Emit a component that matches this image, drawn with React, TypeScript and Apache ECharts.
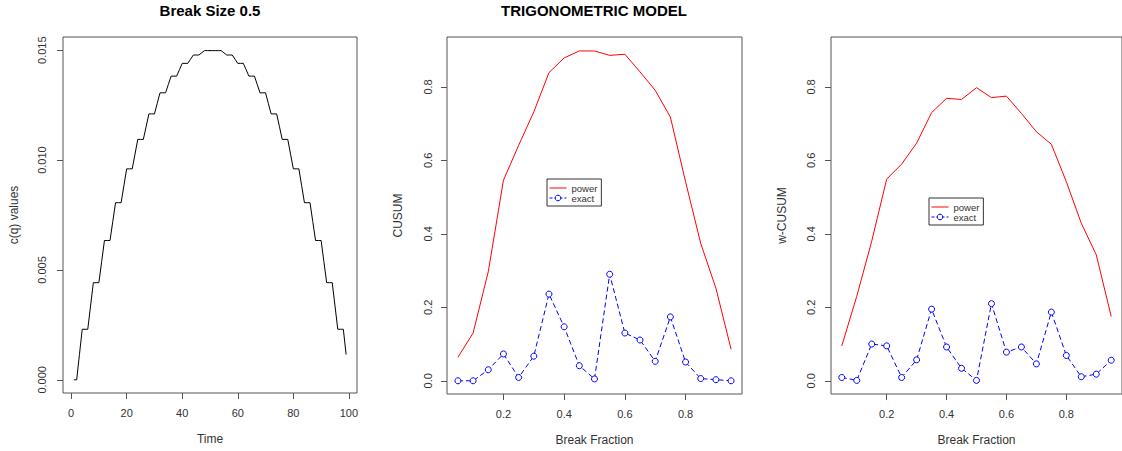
import React, { useEffect, useRef } from "react";
import * as echarts from "echarts";

// ---- Data ----
const cqValues = [
  0, 0, 0.00115,
  0.0023, 0.0023, 0.0023, 0.00336,
  0.00442, 0.00442, 0.00442, 0.00538,
  0.00634, 0.00634, 0.00634, 0.0072,
  0.00806, 0.00806, 0.00806, 0.00883,
  0.0096, 0.0096, 0.0096, 0.01027,
  0.01094, 0.01094, 0.01094, 0.01152,
  0.0121, 0.0121, 0.0121, 0.01258,
  0.01306, 0.01306, 0.01306, 0.01344,
  0.01382, 0.01382, 0.01382, 0.01411,
  0.0144, 0.0144, 0.0144, 0.01459,
  0.01478, 0.01478, 0.01478, 0.01488,
  0.01498, 0.01498, 0.01498, 0.01498,
  0.01498, 0.01498, 0.01498, 0.01488,
  0.01478, 0.01478, 0.01478, 0.01459,
  0.0144, 0.0144, 0.0144, 0.01411,
  0.01382, 0.01382, 0.01382, 0.01344,
  0.01306, 0.01306, 0.01306, 0.01258,
  0.0121, 0.0121, 0.0121, 0.01152,
  0.01094, 0.01094, 0.01094, 0.01027,
  0.0096, 0.0096, 0.0096, 0.00883,
  0.00806, 0.00806, 0.00806, 0.0072,
  0.00634, 0.00634, 0.00634, 0.00538,
  0.00442, 0.00442, 0.00442, 0.00336,
  0.0023, 0.0023, 0.0023, 0.00115,
];
const timeIndex = cqValues.map((_, i) => i + 1);

const breakFractions = [0.05, 0.1, 0.15, 0.2, 0.25, 0.3, 0.35, 0.4, 0.45, 0.5, 0.55, 0.6, 0.65, 0.7, 0.75, 0.8, 0.85, 0.9, 0.95];
const cusumPower = [0.064, 0.13, 0.297, 0.546, 0.641, 0.732, 0.839, 0.879, 0.898, 0.898, 0.886, 0.889, 0.841, 0.791, 0.718, 0.542, 0.374, 0.252, 0.086];
const cusumExact = [0.0, 0.0, 0.03, 0.073, 0.009, 0.067, 0.236, 0.147, 0.041, 0.005, 0.29, 0.13, 0.111, 0.053, 0.174, 0.051, 0.006, 0.003, 0.0];
const wcusumPower = [0.095, 0.23, 0.38, 0.549, 0.59, 0.647, 0.73, 0.769, 0.766, 0.798, 0.771, 0.775, 0.728, 0.678, 0.644, 0.542, 0.429, 0.343, 0.175];
const wcusumExact = [0.009, 0.001, 0.1, 0.095, 0.009, 0.057, 0.195, 0.092, 0.034, 0.001, 0.21, 0.078, 0.092, 0.046, 0.187, 0.069, 0.011, 0.018, 0.056];

const timeTicks = [0, 20, 40, 60, 80, 100];
const cqTicks = [0, 0.005, 0.01, 0.015];
const fracTicks = [0.2, 0.4, 0.6, 0.8];
const powerTicks = [0, 0.2, 0.4, 0.6, 0.8];

const FONT = "Liberation Sans, Arial, sans-serif";
const TXT = "#333";
const BOX = "#555";
const RED = "#ff0000";
const BLUE = "#0000ff";

function xAxisCfg(gridIndex: number, min: number, max: number, ticks: number[], name: string, fmt: (v: number) => string) {
  return {
    type: "value",
    gridIndex,
    min,
    max,
    position: "bottom",
    name,
    nameLocation: "middle",
    nameGap: 40,
    nameTextStyle: { fontSize: 12, color: TXT, fontFamily: FONT },
    axisLine: { show: false, onZero: false },
    splitLine: { show: false },
    axisTick: { show: true, inside: false, length: 6, customValues: ticks, lineStyle: { color: BOX } },
    axisLabel: { show: true, customValues: ticks, margin: 14, fontSize: 11, color: TXT, fontFamily: FONT, formatter: fmt },
  };
}

function yAxisCfg(gridIndex: number, min: number, max: number, ticks: number[], name: string, fmt: (v: number) => string, margin: number) {
  return {
    type: "value",
    gridIndex,
    min,
    max,
    position: "left",
    name,
    nameLocation: "middle",
    nameGap: 43,
    nameRotate: 90,
    nameTextStyle: { fontSize: 12, color: TXT, fontFamily: FONT },
    axisLine: { show: false, onZero: false },
    splitLine: { show: false },
    axisTick: { show: true, inside: false, length: 6, customValues: ticks, lineStyle: { color: BOX } },
    axisLabel: { show: true, customValues: ticks, rotate: 90, margin, fontSize: 11, color: TXT, fontFamily: FONT, formatter: fmt },
  };
}

const f3 = (v: number) => v.toFixed(3);
const f1 = (v: number) => v.toFixed(1);
const f0 = (v: number) => String(Math.round(v));

function legendCfg(left: number, top: number) {
  return {
    orient: "vertical",
    left,
    top,
    data: [
      { name: "power", icon: "path://M0,0h17v1h-17z", itemStyle: { color: RED } },
      { name: "exact", lineStyle: { width: 1, type: [3, 2], color: BLUE }, itemStyle: { color: "#fff", borderColor: BLUE, borderWidth: 1 } },
    ],
    itemGap: 0,
    itemWidth: 17,
    itemHeight: 7,
    padding: [4, 4, 3, 2],
    borderColor: "#333",
    borderWidth: 1,
    borderRadius: 0,
    selectedMode: false,
    textStyle: { fontSize: 9.5, lineHeight: 10, color: TXT, fontFamily: FONT },
  };
}

function exactSeries(axis: number, values: number[]) {
  return {
    name: "exact",
    type: "line",
    xAxisIndex: axis,
    yAxisIndex: axis,
    data: breakFractions.map((x, i) => [x, values[i]]),
    symbol: "circle",
    symbolSize: 6,
    lineStyle: { color: BLUE, width: 1, type: [5, 3] },
    itemStyle: { color: "#fff", borderColor: BLUE, borderWidth: 1 },
  };
}

function powerSeries(axis: number, values: number[]) {
  return {
    name: "power",
    type: "line",
    xAxisIndex: axis,
    yAxisIndex: axis,
    data: breakFractions.map((x, i) => [x, values[i]]),
    symbol: "none",
    lineStyle: { color: RED, width: 1 },
    itemStyle: { color: RED },
  };
}

export default function App() {
  const ref = useRef<HTMLDivElement>(null);
  useEffect(() => {
    document.body.style.margin = "0";
    if (!ref.current) return;
    const chart = echarts.init(ref.current, undefined, { renderer: "svg" });
    const option = {
      animation: false,
      backgroundColor: "#fff",
      textStyle: { fontFamily: FONT },
      title: [
        { text: "Break Size 0.5", left: 210, top: 3, textAlign: "center", padding: 0, textStyle: { fontSize: 15, fontWeight: "bold", color: "#000", fontFamily: FONT } },
        { text: "TRIGONOMETRIC MODEL", left: 594, top: 3, textAlign: "center", padding: 0, textStyle: { fontSize: 15, fontWeight: "bold", color: "#000", fontFamily: FONT } },
      ],
      legend: [legendCfg(547, 179), legendCfg(929, 198)],
      grid: [
        { left: 63, top: 37, width: 294, height: 356, show: true, borderColor: BOX, borderWidth: 1, backgroundColor: "transparent" },
        { left: 447, top: 37, width: 295, height: 357, show: true, borderColor: BOX, borderWidth: 1, backgroundColor: "transparent" },
        { left: 831, top: 37, width: 295, height: 357, show: true, borderColor: BOX, borderWidth: 1, backgroundColor: "transparent" },
      ],
      xAxis: [
        xAxisCfg(0, -2.92, 102.92, timeTicks, "Time", f0),
        xAxisCfg(1, 0.014, 0.986, fracTicks, "Break Fraction", f1),
        xAxisCfg(2, 0.014, 0.986, fracTicks, "Break Fraction", f1),
      ],
      yAxis: [
        yAxisCfg(0, -0.0006, 0.0156, cqTicks, "c(q) values", f3, 16),
        yAxisCfg(1, -0.036, 0.936, powerTicks, "CUSUM", f1, 14),
        yAxisCfg(2, -0.036, 0.936, powerTicks, "w-CUSUM", f1, 15),
      ],
      series: [
        {
          name: "c(q)",
          type: "line",
          xAxisIndex: 0,
          yAxisIndex: 0,
          data: timeIndex.map((t, i) => [t, cqValues[i]]),
          symbol: "none",
          lineStyle: { color: "#000", width: 1 },
          itemStyle: { color: "#000" },
        },
        powerSeries(1, cusumPower),
        exactSeries(1, cusumExact),
        powerSeries(2, wcusumPower),
        exactSeries(2, wcusumExact),
      ],
    };
    chart.setOption(option as any);
    return () => chart.dispose();
  }, []);
  return <div ref={ref} style={{ width: 1122, height: 451 }} />;
}
